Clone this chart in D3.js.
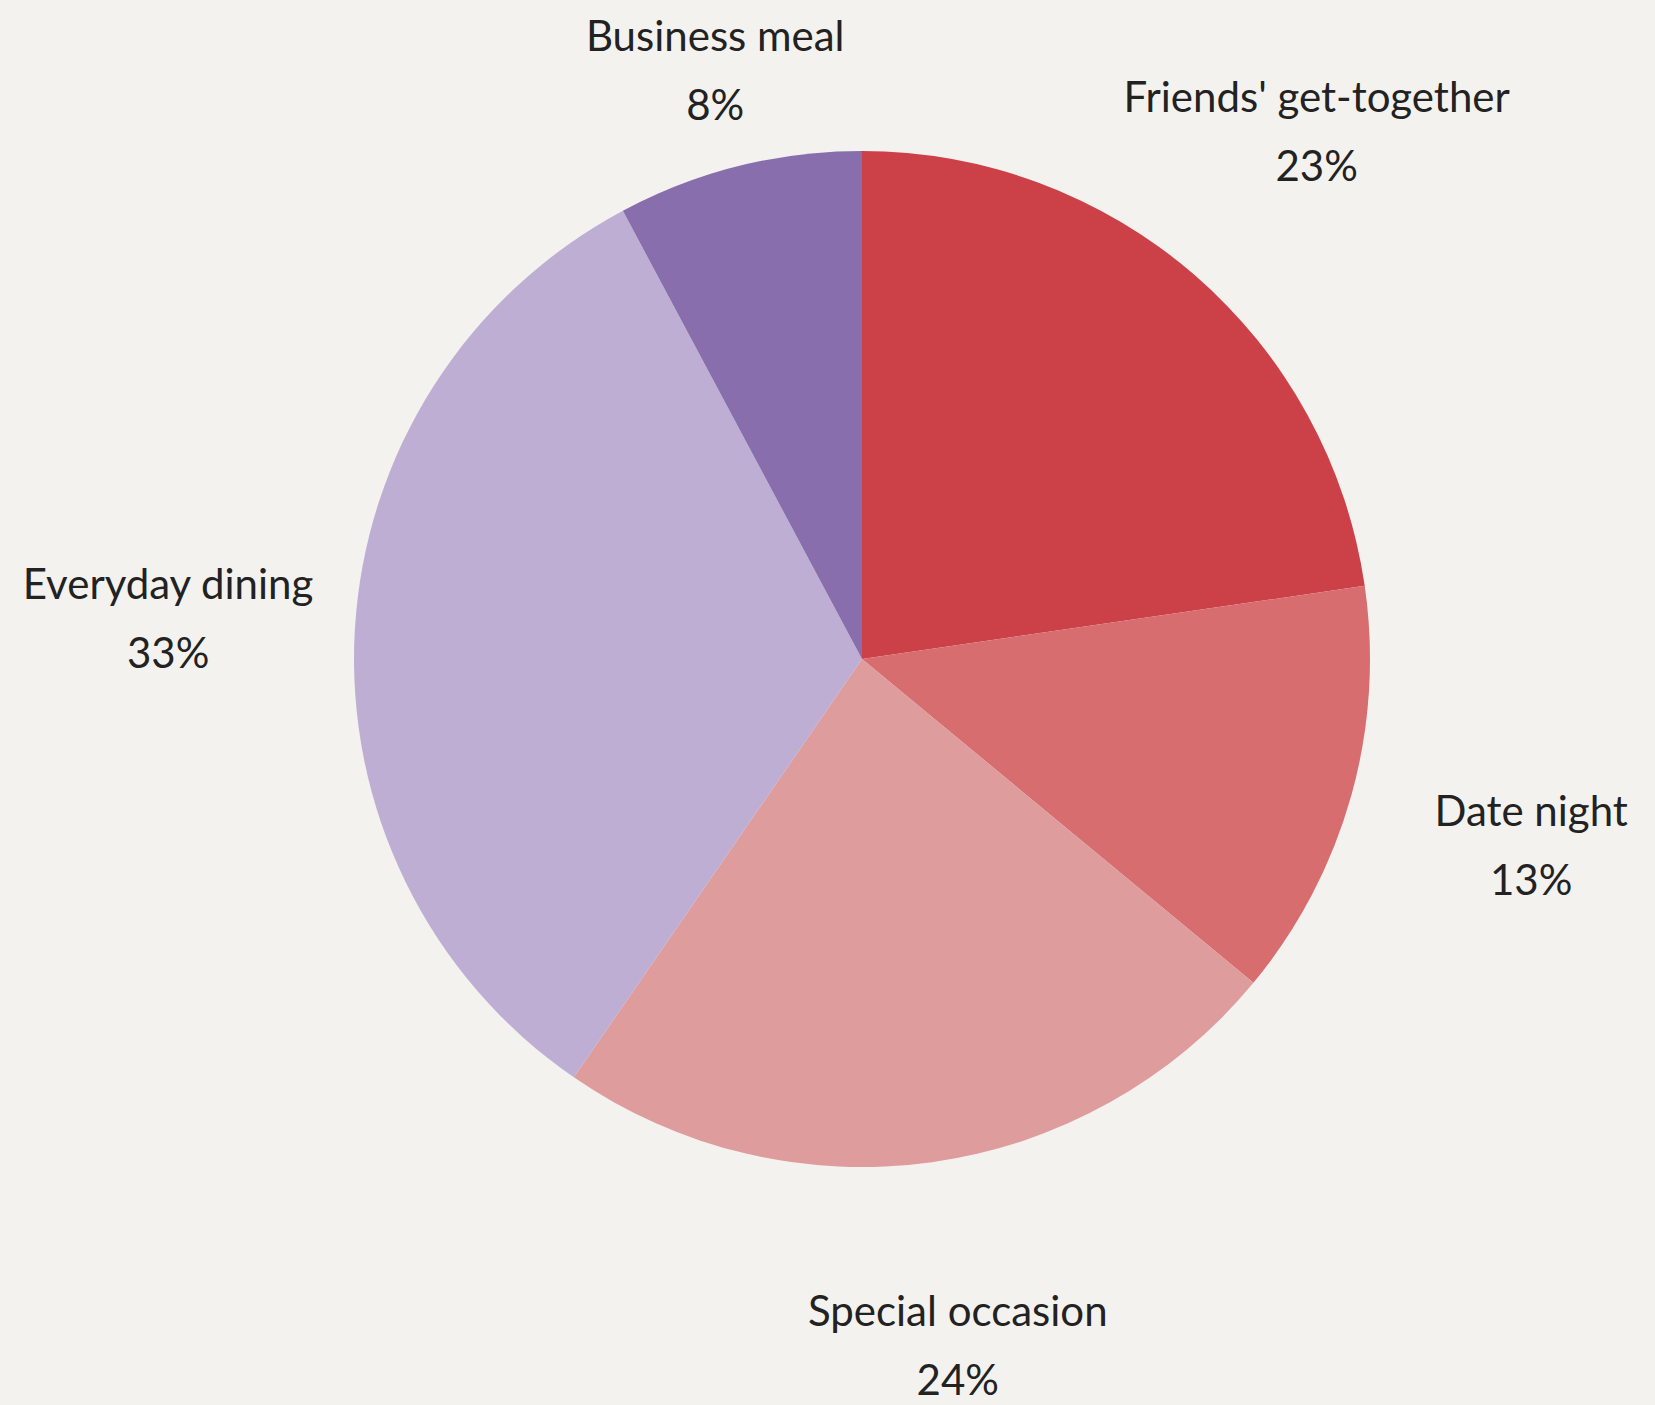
<!DOCTYPE html>
<html>
<head>
<meta charset="utf-8">
<script src="https://cdn.jsdelivr.net/npm/d3@7"></script>
<style>
  html, body { margin: 0; padding: 0; background: #f4f2ef; }
  svg { display: block; }
  text { font-family: Lato, "Open Sans", sans-serif; fill: #222; }
</style>
</head>
<body>
<svg id="chart"></svg>
<script>
'use strict';

var width = 1655,
    height = 1405;

// slice data, clockwise from 12 o'clock
var categories = ["Friends' get-together", "Date night", "Special occasion", "Everyday dining", "Business meal"];
var shares = [22.7, 13.3, 23.6, 32.6, 7.8];
var shareLabels = ["23%", "13%", "24%", "33%", "8%"];
var colors = ["#cc4148", "#d86d6f", "#df9c9d", "#bfaed3", "#886eac"];

var cx = 862, cy = 659;
var radius = 508;
var labelRadius = 695;
var labelTop = 72;

var svg = d3.select('#chart')
  .attr('width', width)
  .attr('height', height);

var slices = categories.map(function(c, i) {
  return { name: c, value: shares[i], label: shareLabels[i], color: colors[i] };
});

var pie = d3.pie()
  .sort(null)
  .value(function(d) { return d.value; });

var arc = d3.arc()
  .innerRadius(0)
  .outerRadius(radius);

var g = svg.append('g')
  .attr('transform', 'translate(' + cx + ',' + cy + ')');

var arcs = pie(slices);

g.selectAll('path')
  .data(arcs)
  .enter()
  .append('path')
  .attr('d', arc)
  .attr('fill', function(d) { return d.data.color; });

// label anchor: along the slice's mid-angle, pulled in if it would leave the top
function labelPos(d) {
  var a = (d.startAngle + d.endAngle) / 2;
  var x = labelRadius * Math.sin(a);
  var y = -labelRadius * Math.cos(a);
  if (cy + y < labelTop) {
    y = labelTop - cy;
    x = y * Math.tan(a) * -1;
  }
  return [x, y];
}

var labels = g.selectAll('g.label')
  .data(arcs)
  .enter()
  .append('g')
  .attr('class', 'label')
  .attr('transform', function(d) { var p = labelPos(d); return 'translate(' + p[0] + ',' + p[1] + ')'; });

labels.append('text')
  .attr('text-anchor', 'middle')
  .attr('y', -21)
  .attr('font-size', 42)
  .text(function(d) { return d.data.name; });

labels.append('text')
  .attr('text-anchor', 'middle')
  .attr('y', 48)
  .attr('font-size', 42)
  .text(function(d) { return d.data.label; });
</script>
</body>
</html>
